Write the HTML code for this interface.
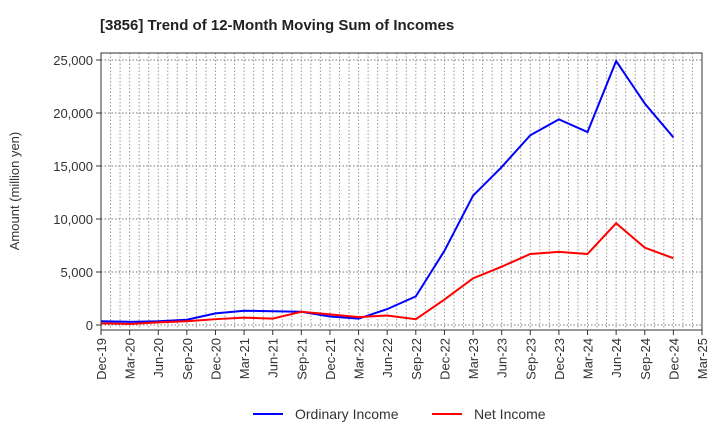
<!DOCTYPE html>
<html><head><meta charset="utf-8"><style>
body{margin:0;background:#fff;font-family:"Liberation Sans",sans-serif;}
svg text{font-family:"Liberation Sans",sans-serif;}
</style></head><body>
<svg id="c" width="720" height="440" xmlns="http://www.w3.org/2000/svg">
<text x="100" y="30" font-size="15" font-weight="bold" fill="#222">[3856]  Trend of 12-Month Moving Sum of Incomes</text>
<g id="grid"></g><g id="series"></g><g id="axes"></g>
<text transform="translate(19,191) rotate(-90)" text-anchor="middle" font-size="13" fill="#333">Amount (million yen)</text>
<g><line x1="253" y1="414" x2="283" y2="414" stroke="#0000ff" stroke-width="2"/><text x="295" y="419" font-size="14" fill="#333">Ordinary Income</text></g>
<g><line x1="432" y1="414" x2="462" y2="414" stroke="#ff0000" stroke-width="2"/><text x="474" y="419" font-size="14" fill="#333">Net Income</text></g>
</svg>
<script>
const categories=["Dec-19","Mar-20","Jun-20","Sep-20","Dec-20","Mar-21","Jun-21","Sep-21","Dec-21","Mar-22","Jun-22","Sep-22","Dec-22","Mar-23","Jun-23","Sep-23","Dec-23","Mar-24","Jun-24","Sep-24","Dec-24","Mar-25"];
const ordinaryIncome=[350,300,350,500,1100,1350,1300,1250,800,600,1500,2700,7000,12200,14900,17900,19400,18200,24900,20900,17700];
const netIncome=[150,100,250,350,550,700,600,1250,1000,750,900,550,2400,4400,5500,6700,6900,6700,9600,7300,6300];
const yTicks=[0,5000,10000,15000,20000,25000];
const L=101,R=702,T=53,B=330,yMin=-470,yMax=25660;
const NS="http://www.w3.org/2000/svg";
const xs=i=>L+(R-L)*i/(categories.length-1);
const ys=v=>B-(v-yMin)/(yMax-yMin)*(B-T);
function mk(t,a,p){const e=document.createElementNS(NS,t);for(const k in a)e.setAttribute(k,a[k]);p.appendChild(e);return e;}
const grid=document.getElementById('grid'),axes=document.getElementById('axes'),ser=document.getElementById('series');
for(let m=1;m<(categories.length-1)*3;m++){const x=L+(R-L)*m/((categories.length-1)*3);
const g=mk('line',{x1:x,x2:x,y1:T,y2:B,stroke:'#999','stroke-dasharray':'1.5,2','stroke-width':1},grid);

}
yTicks.forEach(v=>{const y=ys(v);
const g=mk('line',{x1:L,x2:R,y1:y,y2:y,stroke:'#777','stroke-dasharray':'1.5,2','stroke-width':1},grid);


mk('line',{x1:L-5,x2:L,y1:y,y2:y,stroke:'#333'},axes);
const t=mk('text',{x:L-8,y:y+5,'text-anchor':'end','font-size':'13',fill:'#333'},axes);t.textContent=v.toLocaleString('en-US');

});
categories.forEach((c,i)=>{const x=xs(i);
mk('line',{x1:x,x2:x,y1:B,y2:B+5,stroke:'#333'},axes);
const t=mk('text',{transform:`translate(${x+5},${B+8}) rotate(-90)`,'text-anchor':'end','font-size':'13',fill:'#333'},axes);t.textContent=c;

});
const fr=mk('rect',{x:L,y:T,width:R-L,height:B-T,fill:'none',stroke:'#333','stroke-width':1},axes);


function line(d,col,name){const p=mk('polyline',{points:d.map((v,i)=>xs(i)+','+ys(v)).join(' '),fill:'none',stroke:col,'stroke-width':2},ser);

}
line(ordinaryIncome,'#0000ff','ordinary-income-line');
line(netIncome,'#ff0000','net-income-line');
</script>
</body></html>
